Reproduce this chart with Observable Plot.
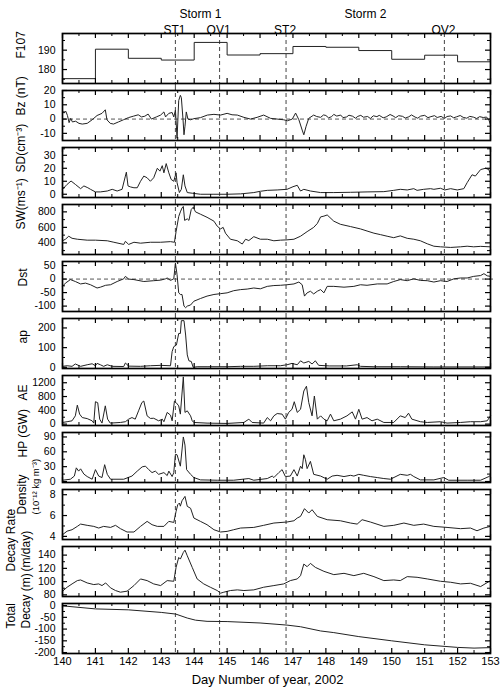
<!DOCTYPE html>
<html><head><meta charset="utf-8">
<script src="https://cdn.jsdelivr.net/npm/d3@7"></script>
<script src="https://cdn.jsdelivr.net/npm/@observablehq/plot@0.6"></script>
<style>
body{margin:0;background:#fff;}
#chart{width:500px;}
#chart svg{display:block;}
</style></head><body><div id="chart"></div>
<script>
// ---- DATA ----
const eventDays = [143.43, 144.77, 146.79, 151.60];
const eventLabels = ["ST1", "OV1", "ST2", "OV2"];
const stormDays = [144.19, 149.2];
const stormLabels = ["Storm 1", "Storm 2"];
const dayTicks = [140,141,142,143,144,145,146,147,148,149,150,151,152,153];
const halfDayTicks = [140.5,141.5,142.5,143.5,144.5,145.5,146.5,147.5,148.5,149.5,150.5,151.5,152.5];
const xLabel = "Day Number of year, 2002";

const f107 = [[140,175.3],[141,190.5],[142,185.8],[143,184.9],[144,194],[145,187.5],[146,188.2],[147,191.9],[148,191.5],[149,189.8],[150,185.3],[151,187.4],[152,184],[153,184]];

const bz = [[140.00,5],[140.05,4.2],[140.1,5.5],[140.15,2.5],[140.2,-2.5],[140.25,0.5],[140.3,-2],[140.4,-1.5],[140.5,-3],[140.6,-3.5],[140.75,-3],[140.9,-0.5],[141.05,2.5],[141.2,4],[141.3,6.5],[141.35,-0.5],[141.45,-3],[141.55,-3.5],[141.7,-2],[141.85,-0.5],[142.0,1],[142.15,2],[142.3,3],[142.4,1.5],[142.5,2],[142.6,3.5],[142.7,0],[142.85,1.5],[142.98,2.8],[143.08,5],[143.13,1.5],[143.23,4],[143.33,4.6],[143.38,1.5],[143.43,6.2],[143.48,-13.5],[143.53,13],[143.58,16.6],[143.61,15],[143.66,0],[143.69,-11],[143.72,-5],[143.76,5],[143.81,0],[143.89,-0.5],[143.99,0.3],[144.19,1],[144.4,2.8],[144.6,3.3],[144.8,2.8],[145.0,4],[145.15,3],[145.31,2.8],[145.51,1.2],[145.71,0],[145.91,1.2],[146.11,2.8],[146.32,0.5],[146.52,0],[146.72,-0.5],[146.83,-1.2],[146.98,0],[147.08,4.2],[147.18,-0.5],[147.28,-7.7],[147.33,-11],[147.40,-5],[147.48,0.5],[147.63,2.8],[147.72,1.8],[147.84,1.2],[147.93,2.9],[148.0,2.5],[148.08,0.9],[148.17,1.6],[148.24,3.3],[148.33,2.1],[148.45,2.8],[148.52,1.0],[148.63,1.5],[148.7,2.7],[148.81,2.0],[148.9,0.6],[148.97,1.9],[149.06,2.6],[149.14,1.3],[149.27,1.8],[149.35,0.4],[149.44,2.3],[149.55,1.7],[149.62,2.6],[149.74,0.9],[149.83,1.5],[149.95,3.2],[150.04,2.2],[150.12,1.0],[150.21,2.4],[150.33,1.9],[150.41,0.7],[150.52,1.6],[150.6,2.9],[150.71,1.4],[150.79,0.6],[150.88,2.1],[151.0,2.6],[151.1,1.0],[151.19,1.7],[151.3,2.4],[151.38,1.1],[151.5,1.9],[151.6,0.4],[151.68,1.8],[151.79,2.2],[151.88,0.9],[151.97,1.6],[152.08,2.5],[152.17,1.2],[152.28,0.6],[152.37,1.9],[152.49,1.3],[152.58,0.4],[152.67,1.7],[152.78,1.1],[152.88,1.4],[152.95,-0.5],[153.0,-4]];

const sd = [[140.00,3.8],[140.14,7.6],[140.26,10.2],[140.39,7.6],[140.55,4.3],[140.65,6.4],[140.77,5],[140.85,3.8],[141.00,1.8],[141.15,1.8],[141.36,2.5],[141.51,3.8],[141.66,2.5],[141.81,3.8],[141.91,14],[141.94,17],[141.99,6.4],[142.07,5.6],[142.17,5],[142.27,5],[142.37,10],[142.47,14],[142.57,12.7],[142.67,10],[142.77,12.7],[142.88,20],[142.96,17.8],[143.03,22],[143.08,16.5],[143.15,23.6],[143.23,16.5],[143.30,11.4],[143.38,10],[143.45,16.5],[143.48,8.9],[143.55,1.3],[143.61,3.8],[143.67,15],[143.72,6.4],[143.79,1.3],[143.94,0.8],[144.19,0],[144.60,0],[145.00,0],[145.41,0.3],[145.81,1.3],[146.01,2.3],[146.22,3],[146.52,3.3],[146.82,3.8],[147.00,5.8],[147.13,6.9],[147.23,2.5],[147.33,3.8],[147.53,2.5],[147.84,1.3],[148.24,1.3],[148.75,1.5],[149.25,1.8],[149.76,2],[150.06,3],[150.26,3.8],[150.47,3.3],[150.67,4.3],[150.77,3],[150.97,3.8],[151.18,4.3],[151.28,3.8],[151.48,4.6],[151.61,3.3],[151.79,4.3],[151.99,3.3],[152.19,4.3],[152.29,8.9],[152.44,15],[152.54,14],[152.70,19],[152.85,20],[152.95,19],[153.00,15]];

const sw = [[140.00,427],[140.09,447],[140.19,486],[140.29,459],[140.45,447],[140.75,435],[141.00,435],[141.36,427],[141.56,408],[141.86,380],[141.91,420],[142.01,380],[142.17,408],[142.37,396],[142.67,408],[142.98,408],[143.28,416],[143.40,408],[143.45,545],[143.53,740],[143.58,800],[143.63,850],[143.67,870],[143.71,690],[143.79,710],[143.84,690],[143.91,830],[143.97,860],[144.04,800],[144.19,770],[144.39,730],[144.60,680],[144.70,615],[144.80,580],[144.88,600],[144.95,525],[145.10,447],[145.31,427],[145.46,385],[145.56,447],[145.66,430],[145.81,480],[146.01,447],[146.22,447],[146.42,427],[146.62,435],[146.82,439],[147.03,447],[147.23,486],[147.43,545],[147.63,600],[147.74,650],[147.84,735],[147.94,745],[148.04,760],[148.24,680],[148.44,640],[148.75,610],[149.05,580],[149.25,553],[149.46,525],[149.66,506],[149.86,486],[150.06,467],[150.26,490],[150.47,459],[150.67,447],[150.87,427],[151.08,388],[151.28,357],[151.48,349],[151.79,341],[152.09,349],[152.29,357],[152.49,349],[152.70,355],[153.00,349]];

const dst = [[140.00,-27],[140.09,-15],[140.24,-2],[140.39,-9],[140.55,-18],[140.70,-15],[140.85,-21],[141.05,-33],[141.15,-30],[141.31,-23],[141.46,-21],[141.66,-9],[141.86,1],[141.91,10],[142.01,0],[142.17,-2],[142.47,-9],[142.77,-6],[142.98,-4],[143.13,1],[143.18,4],[143.28,-5],[143.38,1],[143.43,59],[143.48,16],[143.53,-51],[143.58,-57],[143.63,-57],[143.69,-100],[143.74,-106],[143.79,-100],[143.89,-96],[143.99,-82],[144.19,-72],[144.39,-63],[144.60,-57],[144.80,-54],[145.00,-51],[145.20,-43],[145.41,-39],[145.61,-37],[145.81,-33],[146.01,-36],[146.22,-27],[146.42,-24],[146.62,-23],[146.82,-21],[147.03,-18],[147.18,-11],[147.28,-21],[147.35,-63],[147.43,-51],[147.53,-45],[147.63,-55],[147.74,-45],[147.84,-39],[147.94,-51],[148.04,-27],[148.24,-27],[148.55,-30],[148.85,-27],[149.05,-21],[149.25,-23],[149.56,-18],[149.86,-18],[150.06,-9],[150.26,-2],[150.47,-6],[150.67,1],[150.87,-5],[151.08,-6],[151.28,-11],[151.48,-6],[151.68,-9],[151.89,1],[152.09,4],[152.29,4],[152.49,10],[152.70,13],[152.80,20],[152.90,12],[153.00,10]];

const ap = [[140.00,5],[140.14,8],[140.29,5],[140.39,17],[140.55,5],[140.75,13],[140.90,18],[141.00,8],[141.05,20],[141.15,13],[141.25,5],[141.36,13],[141.51,5],[141.86,4],[141.91,22],[142.01,6],[142.37,5],[142.67,8],[142.98,10],[143.28,8],[143.33,80],[143.38,105],[143.46,113],[143.53,172],[143.58,172],[143.61,237],[143.69,237],[143.74,164],[143.79,63],[143.84,33],[143.91,30],[143.97,0],[144.09,3],[144.39,3],[145.00,3],[145.41,5],[145.81,5],[146.22,8],[146.62,8],[146.82,13],[146.97,20],[147.13,13],[147.23,33],[147.33,22],[147.48,30],[147.58,17],[147.68,33],[147.78,10],[148.12,7],[148.62,7],[148.95,13],[149.05,5],[149.46,3],[150.26,3],[151.28,2],[153.00,2]];

const ae = [[140.00,48],[140.14,70],[140.29,96],[140.39,240],[140.45,550],[140.52,290],[140.60,190],[140.75,160],[140.90,96],[140.95,30],[141.00,650],[141.07,620],[141.13,144],[141.20,30],[141.30,530],[141.37,145],[141.45,30],[141.76,48],[141.91,70],[142.01,144],[142.11,190],[142.21,144],[142.31,385],[142.41,625],[142.47,670],[142.57,240],[142.67,165],[142.77,170],[142.92,96],[143.03,144],[143.08,70],[143.18,340],[143.28,260],[143.33,96],[143.40,670],[143.45,625],[143.53,530],[143.58,290],[143.67,1370],[143.72,340],[143.79,385],[143.89,240],[143.94,96],[143.99,48],[144.39,29],[145.00,20],[145.51,48],[145.66,144],[145.76,48],[146.11,30],[146.22,190],[146.32,96],[146.42,240],[146.52,307],[146.67,290],[146.77,144],[146.87,340],[146.97,430],[147.04,650],[147.13,340],[147.23,430],[147.33,960],[147.41,1100],[147.48,625],[147.58,240],[147.65,815],[147.74,144],[147.84,240],[147.94,144],[148.04,96],[148.14,290],[148.24,96],[148.44,144],[148.64,240],[148.80,355],[148.90,144],[149.00,430],[149.10,144],[149.25,190],[149.40,96],[149.56,144],[149.76,48],[150.06,48],[150.26,240],[150.41,190],[150.51,317],[150.61,144],[150.87,70],[151.08,48],[151.48,70],[151.68,30],[152.09,48],[152.39,70],[152.70,70],[152.90,96],[153.00,240]];

const hp = [[140.00,2.6],[140.24,4.6],[140.36,11],[140.42,27.6],[140.49,21],[140.55,25.6],[140.65,15],[140.75,10],[140.90,4.6],[141.00,24],[141.10,11],[141.20,8],[141.28,34],[141.36,14.5],[141.46,4.6],[141.86,4.6],[142.11,11],[142.27,21],[142.42,29.6],[142.52,31],[142.62,24],[142.72,18],[142.82,21],[142.92,14.5],[143.08,18],[143.18,12],[143.23,21],[143.33,10],[143.38,18],[143.43,55],[143.48,54],[143.58,31],[143.67,90],[143.72,73.6],[143.77,24],[143.89,14.5],[143.99,8],[144.19,3.3],[144.70,2.6],[145.20,2.6],[145.66,6],[145.81,2.6],[146.22,6],[146.37,11],[146.42,8],[146.57,18],[146.67,24],[146.77,10],[146.92,11],[147.03,24],[147.13,11],[147.23,31],[147.28,26],[147.33,54],[147.38,44],[147.43,26],[147.53,40.7],[147.63,14.5],[147.84,11],[148.04,4.6],[148.19,11],[148.34,12.5],[148.55,10],[148.75,12.5],[148.85,11],[149.00,14.5],[149.15,12.5],[149.35,10],[149.56,8],[149.76,6],[149.96,4.6],[150.26,14.5],[150.47,12.5],[150.57,14.5],[150.67,10],[150.87,3.3],[151.28,3.3],[151.58,8],[151.73,2.6],[152.29,2.6],[152.70,2.6],[152.95,10],[153.00,12.5]];

const density = [[140.00,4.16],[140.14,4.5],[140.29,4.64],[140.45,4.96],[140.55,5.18],[140.75,5.06],[140.95,4.96],[141.10,4.8],[141.25,4.96],[141.46,4.86],[141.61,5.06],[141.76,4.74],[141.96,4.42],[142.17,4.42],[142.37,4.96],[142.57,5.44],[142.72,5.12],[142.88,4.96],[143.08,4.96],[143.23,5.44],[143.38,5.34],[143.45,6.4],[143.50,7.04],[143.55,7.2],[143.58,6.9],[143.63,7.42],[143.72,7.84],[143.79,6.88],[143.89,6.7],[143.99,5.76],[144.19,5.44],[144.39,5.12],[144.60,4.64],[144.80,4.42],[145.00,4.48],[145.20,4.64],[145.41,4.8],[145.81,4.86],[146.11,5.06],[146.42,5.28],[146.82,5.38],[147.03,5.5],[147.13,5.76],[147.23,5.92],[147.35,6.66],[147.48,6.24],[147.58,6.56],[147.74,5.92],[148.04,5.6],[148.44,5.5],[148.75,5.28],[148.95,5.18],[149.10,5.6],[149.35,5.38],[149.76,4.96],[150.06,5.06],[150.37,5.28],[150.67,5.06],[150.97,5.18],[151.28,4.96],[151.68,4.86],[152.09,4.74],[152.39,4.8],[152.59,4.54],[152.80,4.8],[153.00,4.96]];

const decayRate = [[140.00,85.5],[140.14,91.5],[140.29,96.5],[140.45,101.5],[140.55,102.5],[140.75,98],[140.95,95.5],[141.10,96.5],[141.20,94],[141.31,98],[141.46,90.5],[141.61,86.5],[141.76,84],[141.96,85.5],[142.17,94],[142.37,104],[142.57,101.5],[142.77,96.5],[142.98,94],[143.18,101.5],[143.38,100.5],[143.45,121.5],[143.53,136.5],[143.58,134],[143.67,144],[143.72,147.5],[143.79,139],[143.94,121.5],[144.09,104],[144.29,96.5],[144.49,91.5],[144.70,86.5],[144.80,82.5],[144.90,84],[145.10,86.5],[145.31,87.5],[145.51,86.5],[145.81,87.5],[146.11,91.5],[146.42,94],[146.72,96.5],[146.92,101.5],[147.13,104],[147.23,109],[147.33,126.5],[147.43,122.5],[147.53,127.5],[147.68,121.5],[147.94,115.5],[148.24,110.5],[148.55,112.5],[148.85,109],[149.15,112.5],[149.46,107.5],[149.76,101.5],[150.06,102.5],[150.26,101.5],[150.47,107.5],[150.77,106.5],[151.08,104],[151.48,100.5],[151.79,99],[152.09,96.5],[152.39,97.5],[152.70,92.5],[153.00,101.5]];

const totalDecay = [[140.00,-1],[141.00,-14],[142.00,-18],[143.00,-29],[143.44,-36],[143.79,-53],[144.04,-62],[144.39,-67],[145.00,-68],[146.00,-74],[146.82,-83],[147.23,-90],[147.84,-108],[148.24,-115],[149.00,-132],[150.00,-150],[151.00,-167],[152.00,-178],[152.50,-181],[153.00,-179]];

// axis tick values per panel
const f107Ticks = [180, 190], f107Minor = [175, 185, 195];
const bzTicks = [20, 10, 0, -10], bzMinor = [15, 5, -5];
const sdTicks = [30, 20, 10, 0], sdMinor = [35, 25, 15, 5];
const swTicks = [800, 600, 400], swMinor = [700, 500, 300];
const dstTicks = [50, 0, -50, -100], dstMinor = [25, -25, -75];
const apTicks = [200, 100, 0], apMinor = [150, 50];
const aeTicks = [1200, 800, 400, 0], aeMinor = [1000, 600, 200];
const hpTicks = [90, 60, 30, 0], hpMinor = [75, 45, 15];
const densTicks = [8, 6, 4], densMinor = [7, 5];
const rateTicks = [140, 120, 100, 80], rateMinor = [130, 110, 90];
const totTicks = [0, -50, -100, -150, -200], totMinor = [-25, -75, -125, -175];

// axis titles (one entry per text line)
const panelLabels = [
  ["F107"], ["Bz (nT)"], ["SD(cm\u207B\u00B3)"], ["SW(ms\u207B\u00B9)"], ["Dst"], ["ap"], ["AE"], ["HP (GW)"],
  ["Density", "(10\u207B\u00B9\u00B2 kg m\u207B\u00B3)"], ["Decay Rate", "(m/day)"], ["Total", "Decay (m)"]
];

// ---- PANELS ----
const panels = [
  {series: f107, domain: [172.8, 198.6], ticks: f107Ticks, minor: f107Minor, curve: "step-after", dxs: [-41], fs: [12]},
  {series: bz, domain: [-15, 20], ticks: bzTicks, minor: bzMinor, zero: true, dxs: [-41], fs: [12]},
  {series: sd, domain: [-2.5, 36], ticks: sdTicks, minor: sdMinor, dxs: [-41], fs: [12]},
  {series: sw, domain: [250, 895], ticks: swTicks, minor: swMinor, dxs: [-41], fs: [12]},
  {series: dst, domain: [-120, 65], ticks: dstTicks, minor: dstMinor, zero: true, zeroExt: true, dxs: [-39], fs: [12]},
  {series: ap, domain: [-6, 248], ticks: apTicks, minor: apMinor, dxs: [-39], fs: [12]},
  {series: ae, domain: [-40, 1410], ticks: aeTicks, minor: aeMinor, dxs: [-39], fs: [12]},
  {series: hp, domain: [-2, 99], ticks: hpTicks, minor: hpMinor, dxs: [-39], fs: [12]},
  {series: density, domain: [3.7, 8.5], ticks: densTicks, minor: densMinor, dxs: [-40, -27], fs: [12, 9.5]},
  {series: decayRate, domain: [77.5, 153], ticks: rateTicks, minor: rateMinor, dxs: [-51, -36], fs: [12, 12]},
  {series: totalDecay, domain: [-204, 9], ticks: totTicks, minor: totMinor, dxs: [-51, -36], fs: [12, 12]}
];

const FONT = "'Liberation Sans', Arial, Helvetica, sans-serif";
const BOX = 50, WIDTH = 500, ML = 62, MR = 10, FW = WIDTH - ML - MR;
const container = document.getElementById("chart");

panels.forEach((p, i) => {
  const first = i === 0, last = i === panels.length - 1;
  const marginTop = first ? 33 : 4;
  const marginBottom = last ? 46 : 3;
  const height = marginTop + BOX + marginBottom;
  const data = p.series.map(([t, v]) => ({t, v}));
  const marks = [
    Plot.ruleX(eventDays, {stroke: "#555", strokeWidth: 1.1, strokeDasharray: "4,3",
      insetTop: first ? 0 : -marginTop, insetBottom: last ? 0 : -marginBottom})
  ];
  if (p.zero) marks.push(Plot.ruleY([0], {stroke: "#555", strokeWidth: 1, strokeDasharray: "4,3", insetRight: p.zeroExt ? -6 : 0}));
  marks.push(Plot.line(data, {x: "t", y: "v", stroke: "#222", strokeWidth: 1, curve: p.curve || "linear"}));
  // inward ticks
  marks.push(
    Plot.tickY(p.ticks, {stroke: "#000", strokeWidth: 1.2, insetRight: FW - 5}),
    Plot.tickY(p.ticks, {stroke: "#000", strokeWidth: 1.2, insetLeft: FW - 5}),
    Plot.tickY(p.minor, {stroke: "#000", strokeWidth: 1, insetRight: FW - 3}),
    Plot.tickY(p.minor, {stroke: "#000", strokeWidth: 1, insetLeft: FW - 3}),
    Plot.tickX(dayTicks, {stroke: "#000", strokeWidth: 1.2, insetBottom: BOX - 5}),
    Plot.tickX(dayTicks, {stroke: "#000", strokeWidth: 1.2, insetTop: BOX - 5}),
    Plot.tickX(halfDayTicks, {stroke: "#000", strokeWidth: 1, insetBottom: BOX - 3}),
    Plot.tickX(halfDayTicks, {stroke: "#000", strokeWidth: 1, insetTop: BOX - 3})
  );
  marks.push(Plot.axisY(p.ticks, {tickSize: 0, tickPadding: 7, fontSize: 10.5, label: null, tickFormat: d => String(d)}));
  panelLabels[i].forEach((line, k) => {
    marks.push(Plot.text([line], {text: d => d, frameAnchor: "left", dx: p.dxs[k], rotate: -90, fontSize: p.fs[k]}));
  });
  if (first) {
    marks.push(Plot.text(eventLabels, {x: (d, j) => eventDays[j], text: d => d, frameAnchor: "top", dx: -1, dy: -8, fontSize: 12}));
    marks.push(Plot.text(stormLabels, {x: (d, j) => stormDays[j], text: d => d, frameAnchor: "top", dy: -24, fontSize: 12}));
  }
  if (last) {
    marks.push(Plot.axisX(dayTicks, {tickSize: 0, tickPadding: 4, fontSize: 11, label: null, tickFormat: d => String(d)}));
    marks.push(Plot.text([xLabel], {text: d => d, frameAnchor: "bottom", dx: -9, dy: 30, fontSize: 13}));
  }
  marks.push(Plot.frame({stroke: "#000", strokeWidth: 1.7}));
  const svg = Plot.plot({
    width: WIDTH, height, marginLeft: ML, marginRight: MR, marginTop, marginBottom,
    style: {fontFamily: FONT, fontSize: "11px", color: "#000", background: "#fff", overflow: "visible"},
    x: {domain: [140, 153], axis: null},
    y: {domain: p.domain, axis: null},
    marks
  });
  container.appendChild(svg);
});
</script></body></html>
